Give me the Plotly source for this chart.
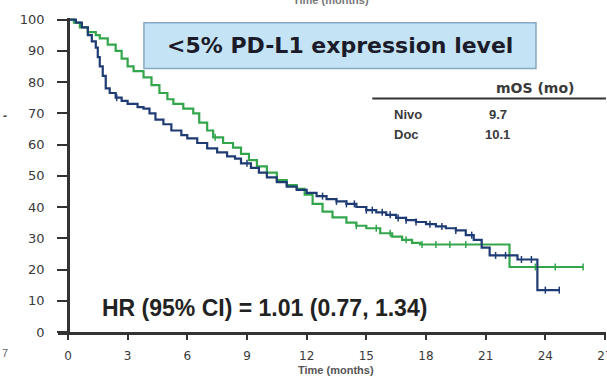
import numpy as np
import plotly.graph_objects as go

# ---- data ----
nivo_t = [0, 0.4, 0.7, 1.0, 1.2, 1.4, 1.5, 1.6, 1.75, 1.9, 2.1, 2.4, 2.7, 3.0, 3.5, 3.8,
          4.1, 4.4, 4.8, 5.2, 5.7, 6.0, 6.5, 7.0, 7.5, 8.0, 8.4, 8.7, 9.2, 9.6, 10.0,
          10.5, 11.0, 11.5, 12.0, 12.5, 13.0, 13.5, 14.0, 14.5, 15.0, 15.5, 16.0, 16.5,
          17.0, 17.5, 18.0, 18.5, 19.0, 19.5, 20.0, 20.4, 20.8, 21.2, 22.6, 23.6, 24.7]
nivo_s = [100, 99, 97.5, 95, 93, 91, 88, 85, 82, 78, 76.5, 75, 74, 73, 72, 71.5,
          70, 68, 66.5, 64.5, 63, 62, 60.5, 58.8, 57.5, 56.2, 55.5, 54, 52.5, 51, 49.5,
          48, 46.5, 45.5, 44.5, 43.5, 42.5, 41.8, 41, 40, 39, 38.3, 37.5, 36.5,
          35.8, 35.2, 34.5, 33.8, 33.2, 32.5, 31, 29.5, 27, 24.5, 23.2, 13.4, 13.4]

doc_t = [0, 0.3, 0.6, 1.0, 1.4, 1.6, 2.0, 2.4, 2.7, 3.0, 3.3, 3.8, 4.2, 4.6, 5.0, 5.3,
         5.8, 6.3, 6.6, 7.0, 7.3, 7.8, 8.3, 8.7, 9.1, 9.5, 10.0, 10.5, 11.0, 11.5, 11.9,
         12.3, 12.8, 13.3, 14.0, 14.5, 15.0, 15.7, 16.3, 16.8, 17.3, 17.7, 22.2, 25.9]
doc_s = [100, 99, 97.5, 96, 95, 94, 92, 90, 87.5, 85, 83.5, 81.5, 79, 76.5, 74.5, 73,
         71.5, 70, 67, 64.5, 62.3, 60.5, 59, 57, 55, 53, 51, 48.6, 47, 45.8, 44,
         41, 38.5, 36.7, 35, 34, 33.2, 31.6, 30.5, 29.5, 28.5, 28.0, 20.8, 20.8]

nivo_cens = [2.45, 9.0, 12.8, 13.5, 14.0, 14.4, 15.0, 15.3, 15.8, 16.2, 16.6, 17.0, 17.5,
             18.2, 18.8, 19.5, 20.3, 21.5, 22.0, 22.8, 23.3, 24.0, 24.7]
doc_cens = [7.4, 14.5, 15.5, 16.2, 17.0, 17.8, 18.5, 19.2, 20.0, 23.5, 24.5, 25.9]

x_ticks = [0, 3, 6, 9, 12, 15, 18, 21, 24, 27]
y_ticks = [0, 10, 20, 30, 40, 50, 60, 70, 80, 90, 100]

arms = ["Nivo", "Doc"]
mos = ["9.7", "10.1"]

NAVY = "#1f3b74"
GREEN = "#33a64c"


def surv_at(t_arr, s_arr, times):
    t_arr = np.asarray(t_arr)
    s_arr = np.asarray(s_arr)
    idx = np.searchsorted(t_arr, np.asarray(times), side="right") - 1
    return s_arr[np.clip(idx, 0, len(s_arr) - 1)]


fig = go.Figure()
fig.add_trace(go.Scatter(x=doc_t, y=doc_s, mode="lines", line=dict(color=GREEN, width=2.2, shape="hv"),
                         showlegend=False, hoverinfo="skip"))
fig.add_trace(go.Scatter(x=nivo_t, y=nivo_s, mode="lines", line=dict(color=NAVY, width=2.2, shape="hv"),
                         showlegend=False, hoverinfo="skip"))
fig.add_trace(go.Scatter(x=doc_cens, y=surv_at(doc_t, doc_s, doc_cens), mode="markers",
                         marker=dict(symbol="line-ns-open", size=5, color=GREEN,
                                     line=dict(color=GREEN, width=1.5)),
                         showlegend=False, hoverinfo="skip"))
fig.add_trace(go.Scatter(x=nivo_cens, y=surv_at(nivo_t, nivo_s, nivo_cens), mode="markers",
                         marker=dict(symbol="line-ns-open", size=5, color=NAVY,
                                     line=dict(color=NAVY, width=1.5)),
                         showlegend=False, hoverinfo="skip"))

x_lo, x_hi = -0.5, 27.05
fig.update_layout(
    width=607, height=381,
    margin=dict(l=58, r=1, t=18, b=49),
    paper_bgcolor="white", plot_bgcolor="white",
    font=dict(family="DejaVu Sans", color="#333333"),
    xaxis=dict(range=[x_lo, x_hi], tickvals=x_ticks, showgrid=False, zeroline=False,
               showline=True, linewidth=2.5, linecolor="#333333",
               ticks="outside", ticklen=5, tickwidth=2, tickcolor="#333333",
               tickfont=dict(size=12, color="#3a3a3a"), ticklabelstandoff=6,
               ticklabeloverflow="allow", automargin=False),
    yaxis=dict(range=[0, 100.5], tickvals=y_ticks, showgrid=False, zeroline=False,
               anchor="free", position=(0 - x_lo) / (x_hi - x_lo),
               showline=True, linewidth=2.5, linecolor="#333333",
               ticks="outside", ticklen=10, tickwidth=2, tickcolor="#333333",
               tickfont=dict(size=13, color="#3a3a3a"), ticklabelstandoff=10, automargin=False),
)

# title box
fig.add_shape(type="rect", xref="x", yref="y", x0=3.82, x1=23.53, y0=84.3, y1=99,
              fillcolor="#c4e4f5", line=dict(color="#86a9c2", width=1.5), layer="below")
fig.add_annotation(x=13.68, y=91.6, xref="x", yref="y", text="<b>&lt;5% PD-L1 expression level</b>",
                   showarrow=False, font=dict(family="DejaVu Sans", size=22, color="#1b1b2a"),
                   xanchor="center", yanchor="middle")

# HR
fig.add_annotation(x=9.9, y=7.7, xref="x", yref="y", text="<b>HR (95% CI) = 1.01 (0.77, 1.34)</b>",
                   showarrow=False, font=dict(family="Liberation Sans", size=23, color="#222222"),
                   xanchor="center", yanchor="middle")

# table
fig.add_annotation(x=23.5, y=78.0, xref="x", yref="y", text="<b>mOS (mo)</b>", showarrow=False,
                   font=dict(family="DejaVu Sans", size=14, color="#3a3a3a"),
                   xanchor="center", yanchor="middle")
fig.add_shape(type="line", xref="x", yref="y", x0=15.3, x1=27.1, y0=74.7, y1=74.7,
              line=dict(color="#333333", width=2))
row_y = [69.7, 63.3]
for name, val, yy in zip(arms, mos, row_y):
    fig.add_annotation(x=16.3, y=yy, xref="x", yref="y", text="<b>" + name + "</b>", showarrow=False,
                       font=dict(family="Liberation Sans", size=13, color="#3a3a3a"),
                       xanchor="left", yanchor="middle")
    fig.add_annotation(x=21.6, y=yy, xref="x", yref="y", text="<b>" + val + "</b>", showarrow=False,
                       font=dict(family="Liberation Sans", size=13, color="#3a3a3a"),
                       xanchor="center", yanchor="middle")

# axis title
fig.add_annotation(x=13.5, y=0, xref="x", yref="paper", text="<b>Time (months)</b>", showarrow=False,
                   font=dict(family="Liberation Sans", size=11, color="#555555"),
                   xanchor="center", yanchor="middle", yshift=-38)

# fragments of neighbouring panels
fig.add_annotation(x=13.2, y=1, xref="x", yref="paper", text="<b>Time (months)</b>", showarrow=False,
                   font=dict(family="Liberation Sans", size=11, color="#777777"),
                   xanchor="center", yanchor="bottom", yshift=10)
fig.add_annotation(x=0, y=69, xref="paper", yref="y", text="<b>-</b>", showarrow=False,
                   font=dict(family="Liberation Sans", size=12, color="#444444"),
                   xanchor="left", yanchor="middle", xshift=-57)
fig.add_annotation(x=0, y=0, xref="paper", yref="paper", text="7", showarrow=False,
                   font=dict(family="Liberation Sans", size=11, color="#666666"),
                   xanchor="left", yanchor="middle", xshift=-58, yshift=-21)

fig.write_html("out.html", config={"displayModeBar": False},
               post_script="document.body.style.margin='0';document.body.style.overflow='hidden';")
